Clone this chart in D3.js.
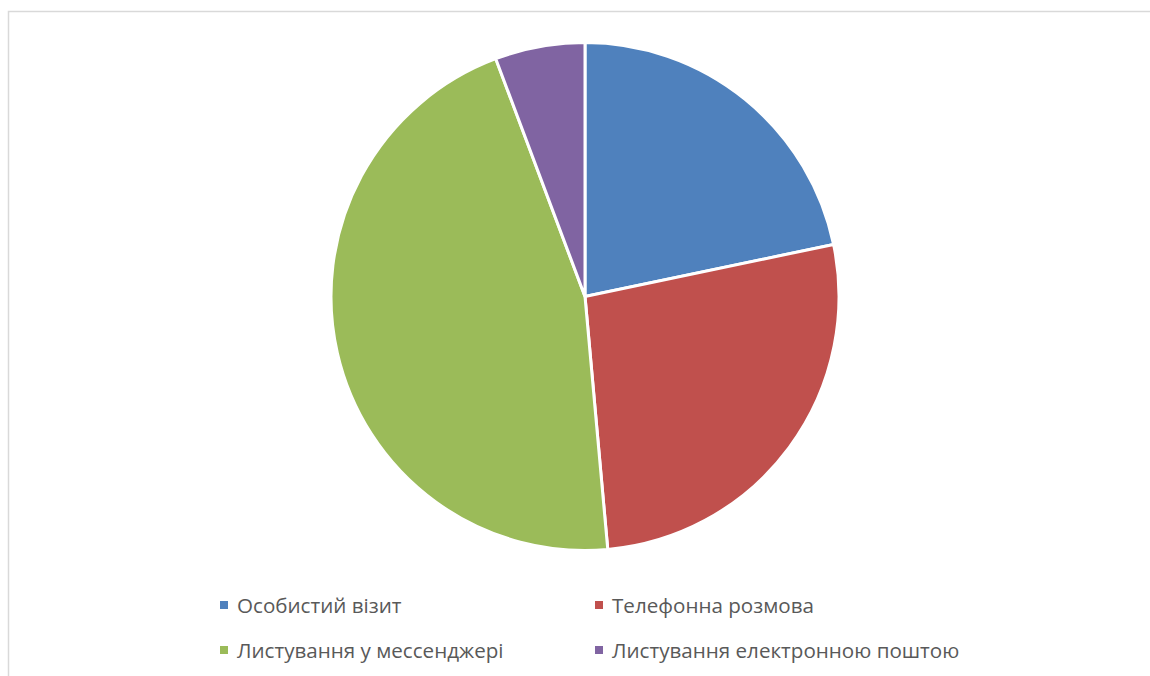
<!DOCTYPE html>
<html>
<head>
<meta charset="utf-8">
<script src="https://cdn.jsdelivr.net/npm/d3@7"></script>
<style>
  html, body { margin: 0; padding: 0; background: #fff; }
  svg { display: block; }
</style>
</head>
<body>
<svg id="chart" width="1150" height="676"></svg>
<script>
const categories = ["Особистий візит", "Телефонна розмова", "Листування у мессенджері", "Листування електронною поштою"];
const values = [38, 47, 80, 10];
const colors = ["#4f81bd", "#c0504d", "#9bbb59", "#8064a2"];

const svg = d3.select("#chart");
const W = 1150, H = 676;

// frame
svg.append("rect")
  .attr("x", 8.5).attr("y", 11.5)
  .attr("width", W).attr("height", H)
  .attr("fill", "#fff").attr("stroke", "#d9d9d9").attr("stroke-width", 1.5);

const cx = 585, cy = 296.5, r = 254;
const data = categories.map((c, i) => ({ name: c, value: values[i], color: colors[i] }));
const pie = d3.pie().value(d => d.value).sort(null);
const arc = d3.arc().innerRadius(0).outerRadius(r);

svg.append("g").attr("transform", `translate(${cx},${cy})`)
  .selectAll("path").data(pie(data)).join("path")
  .attr("d", arc)
  .attr("fill", d => d.data.color)
  .attr("stroke", "#fff")
  .attr("stroke-width", 3)
  .attr("stroke-linejoin", "round");

// legend
const legX = [220, 595], legY = [605, 650];
const leg = svg.append("g");
data.forEach((d, i) => {
  const x = legX[i % 2], y = legY[Math.floor(i / 2)];
  leg.append("rect").attr("x", x).attr("y", y - 4).attr("width", 8).attr("height", 8).attr("fill", d.color);
  leg.append("text").attr("x", x + 17).attr("y", y)
    .attr("dominant-baseline", "central")
    .attr("font-family", "'Open Sans', 'Noto Sans', sans-serif")
    .attr("font-size", 20.6)
    .attr("fill", "#595959")
    .text(d.name);
});
</script>
</body>
</html>
